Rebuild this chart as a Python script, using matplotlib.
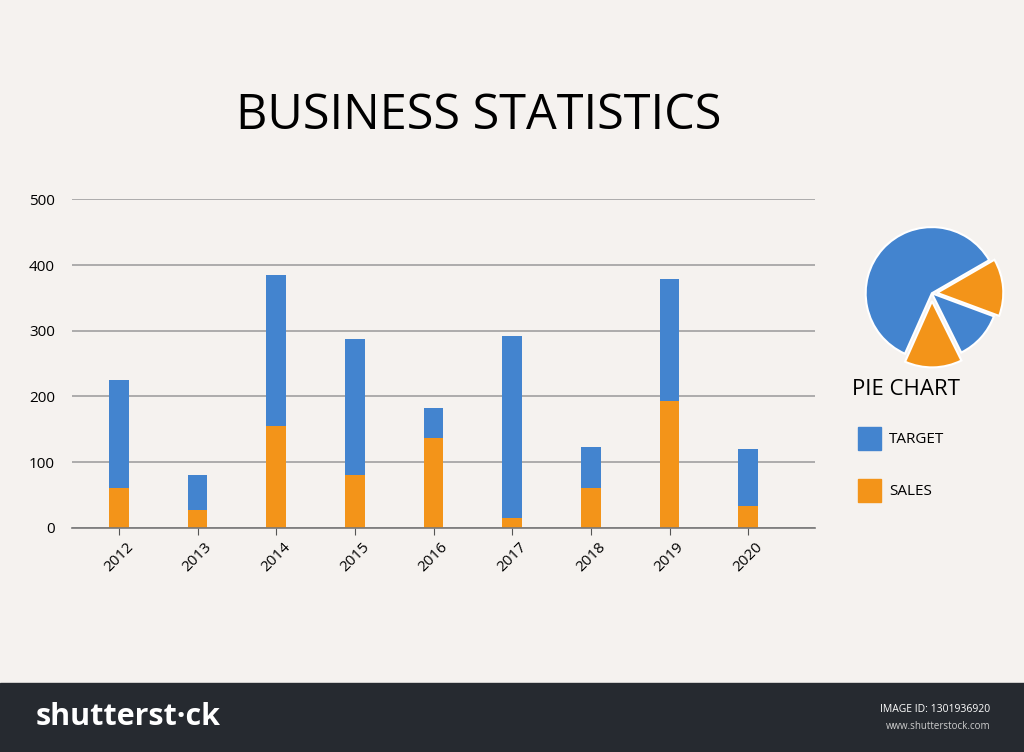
import matplotlib.pyplot as plt
import numpy as np

plt.rcParams['font.family'] = ['Open Sans', 'DejaVu Sans']

years = ['2012', '2013', '2014', '2015', '2016', '2017', '2018', '2019', '2020']
totals = [225, 80, 385, 288, 183, 292, 123, 378, 120]
sales = [60, 27, 155, 80, 137, 15, 60, 193, 33]
pie_vals = [60, 14, 12, 14]
pie_cols = ['#4384cf', '#f39419', '#4384cf', '#f39419']
pie_explode = [0, 0.12, 0.0, 0.08]

BLUE = '#4384cf'
ORANGE = '#f39419'
BG = '#f5f2ef'

fig = plt.figure(figsize=(10.24, 7.52), dpi=100, facecolor=BG)

ax = fig.add_axes([0.07, 0.298, 0.726, 0.437], facecolor=BG)
x = np.arange(len(years))
target = [t - s for t, s in zip(totals, sales)]
ax.bar(x, sales, width=0.25, color=ORANGE)
ax.bar(x, target, bottom=sales, width=0.25, color=BLUE)
ax.set_ylim(0, 500)
ax.set_xlim(-0.6, 8.85)
ax.set_yticks(range(0, 501, 100))
ax.yaxis.grid(True, color='#a0a0a0', lw=1.2)
ax.set_axisbelow(True)
ax.set_xticks(x)
ax.set_xticklabels(years, rotation=45, fontsize=11)
ax.tick_params(axis='y', length=0, labelsize=11, pad=12)
ax.tick_params(axis='x', length=5, color='#555555')
for s in ['top', 'right', 'left']:
    ax.spines[s].set_visible(False)
ax.spines['bottom'].set_color('#777777')
ax.spines['bottom'].set_linewidth(1.2)

fig.text(0.467, 0.845, 'BUSINESS STATISTICS', fontsize=35, ha='center', va='center')

pax = fig.add_axes([0.82, 0.5, 0.18, 0.22])
pax.pie(pie_vals, colors=pie_cols, explode=pie_explode, startangle=30,
        wedgeprops=dict(edgecolor='white', linewidth=1.5))
pax.set_aspect('equal')

fig.text(0.832, 0.482, 'PIE CHART', fontsize=16, va='center')
fig.patches.append(plt.Rectangle((0.838, 0.402), 0.022, 0.03, color=BLUE, transform=fig.transFigure))
fig.text(0.868, 0.416, 'TARGET', fontsize=11, va='center')
fig.patches.append(plt.Rectangle((0.838, 0.333), 0.022, 0.03, color=ORANGE, transform=fig.transFigure))
fig.text(0.868, 0.347, 'SALES', fontsize=11, va='center')

# footer banner
fig.patches.append(plt.Rectangle((0, 0), 1, 0.092, color='#262a30', transform=fig.transFigure))
fig.text(0.035, 0.046, 'shutterst\u00b7ck', color='white', fontsize=22, fontweight='bold', va='center')
fig.text(0.967, 0.057, 'IMAGE ID: 1301936920', color='white', fontsize=7.5, ha='right', va='center')
fig.text(0.967, 0.034, 'www.shutterstock.com', color='#cccccc', fontsize=7, ha='right', va='center')

fig.savefig('out.png', dpi=100, facecolor=BG)
